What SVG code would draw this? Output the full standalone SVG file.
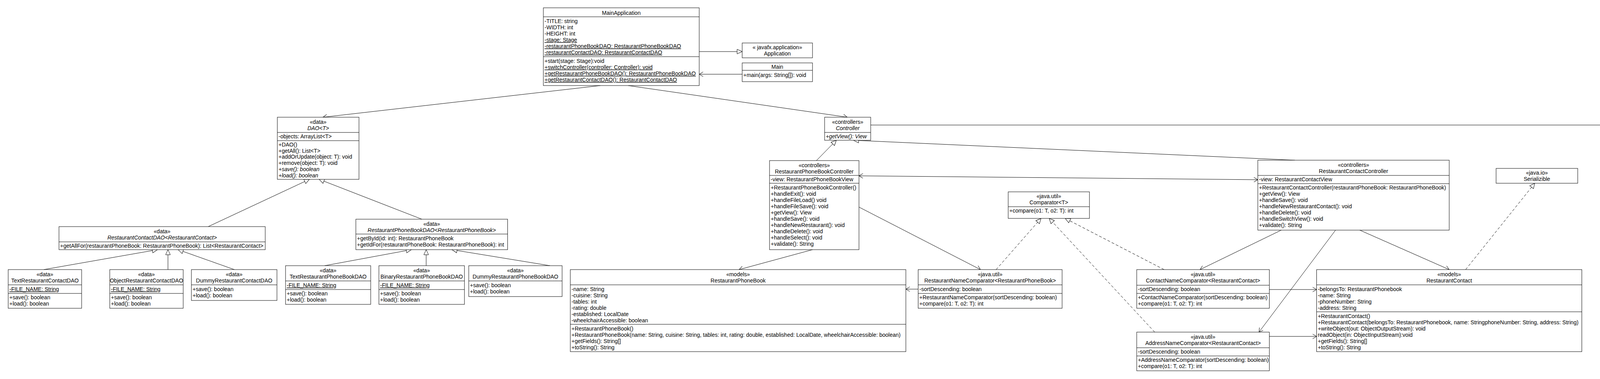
<svg xmlns="http://www.w3.org/2000/svg" width="5270" height="970" viewBox="0 0 5270 970">
<defs>
<style>
rect.b{fill:#fff;stroke:#000;stroke-width:1}
line.s{stroke:#000;stroke-width:1}
text{font-family:"Liberation Sans",Arial,sans-serif;font-size:14px;fill:#000}
.c{text-anchor:middle}
.i{font-style:italic}
.u{text-decoration:underline}
.ln{fill:none;stroke:#000;stroke-width:1}
.d{stroke-dasharray:7 5}
.g{marker-end:url(#tri)}
.a{marker-end:url(#arr)}
.a2{marker-start:url(#arr);marker-end:url(#arr)}
</style>
<marker id="tri" viewBox="-1 -1 15 14" refX="13" refY="6" markerWidth="15" markerHeight="14" orient="auto" markerUnits="userSpaceOnUse" overflow="visible"><path d="M0,0 L13,6 L0,12 Z" fill="#fff" stroke="#000" stroke-width="1" stroke-dasharray="none"/></marker>
<marker id="arr" viewBox="-1 -1 12 14" refX="10" refY="6" markerWidth="12" markerHeight="14" orient="auto-start-reverse" markerUnits="userSpaceOnUse" overflow="visible"><path d="M0,0 L10,6 L0,12" fill="none" stroke="#000" stroke-width="1"/></marker>
</defs>
<rect x="0" y="0" width="5270" height="970" fill="#fff"/>

<g id="connectors">
<line class="ln g" x1="1790" y1="132" x2="1900" y2="132"/>
<line class="ln a" x1="1900" y1="190" x2="1790" y2="190"/>
<line class="ln a" x1="1537" y1="219" x2="827" y2="300"/>
<line class="ln a" x1="1608" y1="219" x2="2169" y2="300"/>
<line class="ln a" x1="2229" y1="320" x2="4600" y2="320"/>
<line class="ln g" x1="533" y1="580" x2="792" y2="459"/>
<line class="ln g" x1="1080" y1="561" x2="817" y2="459"/>
<line class="ln g" x1="112" y1="690" x2="403" y2="639"/>
<line class="ln g" x1="430" y1="690" x2="430" y2="639"/>
<line class="ln g" x1="600" y1="690" x2="456" y2="639"/>
<line class="ln g" x1="831" y1="680" x2="1053" y2="639"/>
<line class="ln g" x1="1091" y1="680" x2="1091" y2="639"/>
<line class="ln g" x1="1408" y1="680" x2="1157" y2="639"/>
<line class="ln g" x1="2090" y1="411" x2="2141" y2="359"/>
<line class="ln g" x1="3315" y1="410" x2="2185" y2="359"/>
<line class="ln g" x1="4302" y1="431" x2="4663" y2="358"/>
<line class="ln g" x1="4956" y1="381" x2="4696" y2="358"/>
<line class="ln d g" x1="2550" y1="690" x2="2665" y2="559"/>
<line class="ln d g" x1="2956" y1="850" x2="2686" y2="559"/>
<line class="ln d g" x1="2980" y1="690" x2="2727" y2="559"/>
<line class="ln d g" x1="3752" y1="690" x2="3929" y2="469"/>
<line class="ln a2" x1="2199" y1="450" x2="3220" y2="460"/>
<line class="ln a" x1="2199" y1="530" x2="2510" y2="690"/>
<line class="ln a" x1="2080" y1="639" x2="1892" y2="690"/>
<line class="ln a" x1="2350" y1="740" x2="2319" y2="740"/>
<line class="ln a" x1="3280" y1="589" x2="3072" y2="690"/>
<line class="ln a" x1="3419" y1="589" x2="3223" y2="850"/>
<line class="ln a" x1="3481" y1="589" x2="3710" y2="690"/>
<line class="ln a" x1="3249.5" y1="741" x2="3370.5" y2="741"/>
<line class="ln a" x1="3249.5" y1="861" x2="3370.5" y2="861"/>
</g>

<g id="n-mainapp">
<rect class="b" x="1391" y="20" width="399" height="199"/>
<line class="s" x1="1391" y1="43" x2="1790" y2="43"/>
<line class="s" x1="1391" y1="145" x2="1790" y2="145"/>
<text class="c" x="1590.5" y="38">MainApplication</text>
<text x="1394" y="59">-TITLE: string</text>
<text x="1394" y="75">-WIDTH: int</text>
<text x="1394" y="91">-HEIGHT: int</text>
<text class="u" x="1394" y="107">-stage: Stage</text>
<text class="u" x="1394" y="123">-restaurantPhoneBookDAO: RestaurantPhoneBookDAO</text>
<text class="u" x="1394" y="139">-restaurantContactDAO: RestaurantContactDAO</text>
<text x="1394" y="161">+start(stage: Stage):void</text>
<text class="u" x="1394" y="177">+switchController(controller: Controller): void</text>
<text class="u" x="1394" y="193">+getRestaurantPhoneBookDAO(): RestaurantPhoneBookDAO</text>
<text class="u" x="1394" y="209">+getRestaurantContactDAO(): RestaurantContactDAO</text>
</g>

<g id="n-application">
<rect class="b" x="1900" y="110" width="180" height="38"/>
<text class="c" x="1990" y="126">« javafx.application»</text>
<text class="c" x="1990" y="142">Application</text>
</g>

<g id="n-main">
<rect class="b" x="1900" y="161" width="180" height="48"/>
<line class="s" x1="1900" y1="180" x2="2080" y2="180"/>
<text class="c" x="1990" y="176">Main</text>
<text x="1903" y="197">+main(args: String[]): void</text>
</g>

<g id="n-dao">
<rect class="b" x="710" y="300" width="209" height="159"/>
<line class="s" x1="710" y1="339" x2="919" y2="339"/>
<line class="s" x1="710" y1="360" x2="919" y2="360"/>
<text class="c" x="814.5" y="317">«data»</text>
<text class="c i" x="814.5" y="333">DAO&lt;T&gt;</text>
<text x="713" y="354">-objects: ArrayList&lt;T&gt;</text>
<text x="713" y="375">+DAO()</text>
<text x="713" y="390.7">+getAll(): List&lt;T&gt;</text>
<text x="713" y="406.4">+addOrUpdate(object: T): void</text>
<text x="713" y="422.1">+remove(object: T): void</text>
<text class="i" x="713" y="437.8">+save(): boolean</text>
<text class="i" x="713" y="453.5">+load(): boolean</text>
</g>

<g id="n-controller">
<rect class="b" x="2111" y="300" width="118" height="59"/>
<line class="s" x1="2111" y1="339" x2="2229" y2="339"/>
<text class="c" x="2170" y="317">«controllers»</text>
<text class="c i" x="2170" y="333">Controller</text>
<text class="i" x="2114" y="354">+getView(): View</text>
</g>

<g id="n-rpbc">
<rect class="b" x="1970" y="411" width="229" height="228"/>
<line class="s" x1="1970" y1="449" x2="2199" y2="449"/>
<line class="s" x1="1970" y1="469" x2="2199" y2="469"/>
<text class="c" x="2084.5" y="428">«controllers»</text>
<text class="c" x="2084.5" y="444">RestaurantPhoneBookController</text>
<text x="1973" y="464">-view: RestaurantPhoneBookView</text>
<text x="1973" y="485">+RestaurantPhoneBookController()</text>
<text x="1973" y="501">+handleExit(): void</text>
<text x="1973" y="517">+handleFileLoad() void</text>
<text x="1973" y="533">+handleFileSave(): void</text>
<text x="1973" y="549">+getView(): View</text>
<text x="1973" y="565">+handleSave(): void</text>
<text x="1973" y="581">+handleNewRestaurant(): void</text>
<text x="1973" y="597">+handleDelete(): void</text>
<text x="1973" y="613">+handleSelect(): void</text>
<text x="1973" y="629">+validate(): String</text>
</g>

<g id="n-rcc">
<rect class="b" x="3220" y="410" width="490" height="179"/>
<line class="s" x1="3220" y1="449" x2="3710" y2="449"/>
<line class="s" x1="3220" y1="470" x2="3710" y2="470"/>
<text class="c" x="3465" y="427">«controllers»</text>
<text class="c" x="3465" y="443">RestaurantContactController</text>
<text x="3223" y="464">-view: RestaurantContactView</text>
<text x="3223" y="485">+RestaurantContactController(restaurantPhoneBook: RestaurantPhoneBook)</text>
<text x="3223" y="501">+getView(): View</text>
<text x="3223" y="517">+handleSave(): void</text>
<text x="3223" y="533">+handleNewRestaurantContact(): void</text>
<text x="3223" y="549">+handleDelete(): void</text>
<text x="3223" y="565">+handleSwitchView(): void</text>
<text x="3223" y="581">+validate(): String</text>
</g>

<g id="n-view">
<rect class="b" x="4600" y="240" width="159" height="118"/>
<line class="s" x1="4600" y1="279" x2="4759" y2="279"/>
<line class="s" x1="4600" y1="300" x2="4759" y2="300"/>
<text class="c" x="4679.5" y="257">«views»</text>
<text class="c i" x="4679.5" y="273">View</text>
<text x="4603" y="295">-root: Parent</text>
<text x="4603" y="316">+View()</text>
<text class="i" x="4603" y="332">#initializeView(): Parent</text>
<text x="4603" y="348">+getRoot(): Parent</text>
</g>

<g id="n-rpbview">
<rect class="b" x="4200" y="431" width="390" height="288"/>
<line class="s" x1="4200" y1="470" x2="4590" y2="470"/>
<line class="s" x1="4200" y1="698" x2="4590" y2="698"/>
<text class="c" x="4395" y="448">«views»</text>
<text class="c" x="4395" y="464">RestaurantPhoneBookView</text>
<text x="4203" y="485">-saveButton: Button</text>
<text x="4203" y="501">-newButton: Button</text>
<text x="4203" y="517">-deleteButton: Button</text>
<text x="4203" y="533">-selectButton: Button</text>
<text x="4203" y="549">-restaurantPhoneBookList: ListView&lt;RestaurantPhoneBook&gt;</text>
<text x="4203" y="565">-nameField: TextField</text>
<text x="4203" y="581">-cuisineField: TextField</text>
<text x="4203" y="597">-ratingField: TextField</text>
<text x="4203" y="613">-tablesField: TextField</text>
<text x="4203" y="629">-establishedField: DatePicker</text>
<text x="4203" y="645">-wheelchairAccessibleField: CheckBox</text>
<text x="4203" y="661">-saveMenuItem: MenuItem</text>
<text x="4203" y="677">-loadMenuItem: MenuItem</text>
<text x="4203" y="693">-exitMenuItem: MenuItem</text>
<text x="4203" y="714">#initializeView(): Parent</text>
</g>

<g id="n-rcview">
<rect class="b" x="4860" y="381" width="389" height="208"/>
<line class="s" x1="4860" y1="420" x2="5249" y2="420"/>
<line class="s" x1="4860" y1="568" x2="5249" y2="568"/>
<text class="c" x="5054.5" y="398">«views»</text>
<text class="c" x="5054.5" y="414">RestaurantContactView</text>
<text x="4863" y="435">-newButton: Button</text>
<text x="4863" y="451">-saveButton: Button</text>
<text x="4863" y="467">-deleteButton: Button</text>
<text x="4863" y="483">-restaurantsViewButton: Button</text>
<text x="4863" y="499">-restaurantsComboBox: ComboBox&lt;RestaurantPhoneBook&gt;</text>
<text x="4863" y="515">-nameField: TextField</text>
<text x="4863" y="531">-phoneNumberField: TextField</text>
<text x="4863" y="547">-addressField: TextArea</text>
<text x="4863" y="563">-restaurantContactListView: ListView&lt;RestaurantContact&gt;</text>
<text x="4863" y="584">#initializeView(): Parent</text>
</g>

<g id="n-serializable">
<rect class="b" x="3830" y="431" width="209" height="38"/>
<text class="c" x="3934.5" y="447">«java.io»</text>
<text class="c" x="3934.5" y="463">Serializible</text>
</g>

<g id="n-comparator">
<rect class="b" x="2581" y="491" width="208" height="68"/>
<line class="s" x1="2581" y1="529" x2="2789" y2="529"/>
<text class="c" x="2685" y="507">«java.util»</text>
<text class="c" x="2685" y="523">Comparator&lt;T&gt;</text>
<text x="2584" y="544">+compare(o1: T, o2: T): int</text>
</g>

<g id="n-rnc">
<rect class="b" x="2350.5" y="690" width="368.5" height="99"/>
<line class="s" x1="2350.5" y1="729" x2="2719" y2="729"/>
<line class="s" x1="2350.5" y1="751" x2="2719" y2="751"/>
<text class="c" x="2534.75" y="707">«java.util»</text>
<text class="c" x="2534.75" y="723">RestaurantNameComparator&lt;RestaurantPhoneBook&gt;</text>
<text x="2353.5" y="745">-sortDescending: boolean</text>
<text x="2353.5" y="766">+RestaurantNameComparator(sortDescending: boolean)</text>
<text x="2353.5" y="782">+compare(o1: T, o2: T): int</text>
</g>

<g id="n-cnc">
<rect class="b" x="2910" y="690" width="339.5" height="99"/>
<line class="s" x1="2910" y1="730" x2="3249.5" y2="730"/>
<line class="s" x1="2910" y1="751" x2="3249.5" y2="751"/>
<text class="c" x="3079.75" y="707">«java.util»</text>
<text class="c" x="3079.75" y="723">ContactNameComparator&lt;RestaurantContact&gt;</text>
<text x="2913" y="745">-sortDescending: boolean</text>
<text x="2913" y="766">+ContactNameComparator(sortDescending: boolean)</text>
<text x="2913" y="782">+compare(o1: T, o2: T): int</text>
</g>

<g id="n-anc">
<rect class="b" x="2910" y="850" width="339.5" height="99"/>
<line class="s" x1="2910" y1="890" x2="3249.5" y2="890"/>
<line class="s" x1="2910" y1="911" x2="3249.5" y2="911"/>
<text class="c" x="3079.75" y="867">«java.util»</text>
<text class="c" x="3079.75" y="883">AddressNameComparator&lt;RestaurantContact&gt;</text>
<text x="2913" y="905">-sortDescending: boolean</text>
<text x="2913" y="926">+AddressNameComparator(sortDescending: boolean)</text>
<text x="2913" y="942">+compare(o1: T, o2: T): int</text>
</g>

<g id="n-rc">
<rect class="b" x="3370.5" y="690" width="679" height="210"/>
<line class="s" x1="3370.5" y1="729" x2="4049.5" y2="729"/>
<line class="s" x1="3370.5" y1="798" x2="4049.5" y2="798"/>
<text class="c" x="3710" y="707">«models»</text>
<text class="c" x="3710" y="723">RestaurantContact</text>
<text x="3373.5" y="745">-belongsTo: RestaurantPhonebook</text>
<text x="3373.5" y="761">-name: String</text>
<text x="3373.5" y="777">-phoneNumber: String</text>
<text x="3373.5" y="793">-address: String</text>
<text x="3373.5" y="814">+RestaurantContact()</text>
<text x="3373.5" y="830">+RestaurantContact(belongsTo: RestaurantPhonebook, name: StringphoneNumber: String, address: String)</text>
<text x="3373.5" y="846">+writeObject(out: ObjectOutputStream): void</text>
<text x="3373.5" y="862">readObject(in: ObjectInputStream):void</text>
<text x="3373.5" y="878">+getFields(): String[]</text>
<text x="3373.5" y="894">+toString(): String</text>
</g>

<g id="n-rpb">
<rect class="b" x="1460" y="690" width="859" height="210"/>
<line class="s" x1="1460" y1="729" x2="2319" y2="729"/>
<line class="s" x1="1460" y1="830" x2="2319" y2="830"/>
<text class="c" x="1889.5" y="707">«models»</text>
<text class="c" x="1889.5" y="723">RestaurantPhoneBook</text>
<text x="1463" y="745">-name: String</text>
<text x="1463" y="761">-cuisine: String</text>
<text x="1463" y="777">-tables: int</text>
<text x="1463" y="793">-rating: double</text>
<text x="1463" y="809">-established: LocalDate</text>
<text x="1463" y="825">-wheelchairAccessible: boolean</text>
<text x="1463" y="846">+RestaurantPhoneBook()</text>
<text x="1463" y="862">+RestaurantPhoneBook(name: String, cuisine: String, tables: int, rating: double, established: LocalDate, wheelchairAccessible: boolean)</text>
<text x="1463" y="878">+getFields(): String[]</text>
<text x="1463" y="894">+toString(): String</text>
</g>

<g id="n-rcdao">
<rect class="b" x="151" y="580" width="528" height="59"/>
<line class="s" x1="151" y1="619" x2="679" y2="619"/>
<text class="c" x="415" y="597">«data»</text>
<text class="c i" x="415" y="613">RestaurantContactDAO&lt;RestaurantContact&gt;</text>
<text x="154" y="634">+getAllFor(restaurantPhoneBook: RestaurantPhoneBook): List&lt;RestaurantContact&gt;</text>
</g>

<g id="n-rpbdao">
<rect class="b" x="911" y="561" width="388.5" height="78"/>
<line class="s" x1="911" y1="599" x2="1299.5" y2="599"/>
<text class="c" x="1105.25" y="578">«data»</text>
<text class="c i" x="1105.25" y="594">RestaurantPhoneBookDAO&lt;RestaurantPhoneBook&gt;</text>
<text x="914" y="615">+getById(id: int): RestaurantPhoneBook</text>
<text x="914" y="631">+getIdFor(restaurantPhoneBook: RestaurantPhoneBook): int</text>
</g>

<g id="n-textrcdao">
<rect class="b" x="21" y="690" width="188" height="99"/>
<line class="s" x1="21" y1="729" x2="209" y2="729"/>
<line class="s" x1="21" y1="751" x2="209" y2="751"/>
<text class="c" x="115" y="707">«data»</text>
<text class="c" x="115" y="723">TextRestaurantContactDAO</text>
<text class="u" x="24" y="745">-FILE_NAME: String</text>
<text x="24" y="766">+save(): boolean</text>
<text x="24" y="782">+load(): boolean</text>
</g>

<g id="n-objectrcdao">
<rect class="b" x="281" y="690" width="188" height="99"/>
<line class="s" x1="281" y1="729" x2="469" y2="729"/>
<line class="s" x1="281" y1="751" x2="469" y2="751"/>
<text class="c" x="375" y="707">«data»</text>
<text class="c" x="375" y="723">ObjectRestaurantContactDAO</text>
<text class="u" x="284" y="745">-FILE_NAME: String</text>
<text x="284" y="766">+save(): boolean</text>
<text x="284" y="782">+load(): boolean</text>
</g>

<g id="n-dummyrcdao">
<rect class="b" x="490" y="690" width="219" height="79"/>
<line class="s" x1="490" y1="729" x2="709" y2="729"/>
<text class="c" x="599.5" y="707">«data»</text>
<text class="c" x="599.5" y="723">DummyRestaurantContactDAO</text>
<text x="493" y="745">+save(): boolean</text>
<text x="493" y="761">+load(): boolean</text>
</g>

<g id="n-textrpbdao">
<rect class="b" x="731" y="680" width="218" height="99"/>
<line class="s" x1="731" y1="719" x2="949" y2="719"/>
<line class="s" x1="731" y1="741" x2="949" y2="741"/>
<text class="c" x="840" y="697">«data»</text>
<text class="c" x="840" y="713">TextRestaurantPhoneBookDAO</text>
<text class="u" x="734" y="735">-FILE_NAME: String</text>
<text x="734" y="756">+save(): boolean</text>
<text x="734" y="772">+load(): boolean</text>
</g>

<g id="n-binaryrpbdao">
<rect class="b" x="970" y="680" width="219" height="99"/>
<line class="s" x1="970" y1="719" x2="1189" y2="719"/>
<line class="s" x1="970" y1="741" x2="1189" y2="741"/>
<text class="c" x="1079.5" y="697">«data»</text>
<text class="c" x="1079.5" y="713">BinaryRestaurantPhoneBookDAO</text>
<text class="u" x="973" y="735">-FILE_NAME: String</text>
<text x="973" y="756">+save(): boolean</text>
<text x="973" y="772">+load(): boolean</text>
</g>

<g id="n-dummyrpbdao">
<rect class="b" x="1200" y="680" width="239" height="79"/>
<line class="s" x1="1200" y1="719" x2="1439" y2="719"/>
<text class="c" x="1319.5" y="697">«data»</text>
<text class="c" x="1319.5" y="713">DummyRestaurantPhoneBookDAO</text>
<text x="1203" y="735">+save(): boolean</text>
<text x="1203" y="751">+load(): boolean</text>
</g>
</svg>
